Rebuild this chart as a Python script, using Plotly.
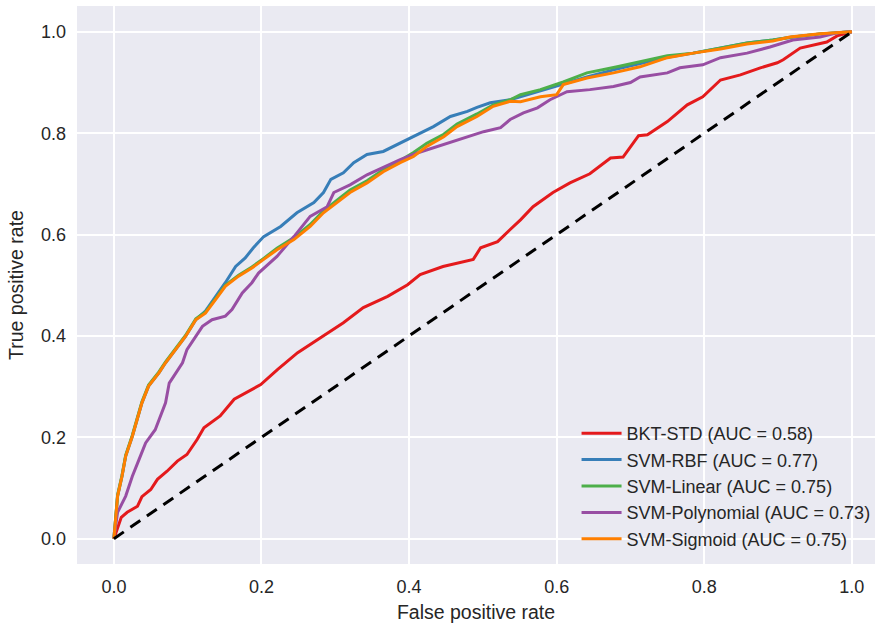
import plotly.graph_objects as go

# ---- data ----
bkt_fpr = [0, 0.010, 0.018, 0.032, 0.038, 0.050, 0.059, 0.072, 0.086, 0.099, 0.113, 0.122, 0.144, 0.163,
           0.199, 0.222, 0.249, 0.280, 0.311, 0.338, 0.371, 0.398, 0.415, 0.446, 0.487, 0.497, 0.520, 0.537,
           0.551, 0.568, 0.595, 0.618, 0.645, 0.673, 0.690, 0.711, 0.723, 0.750, 0.777, 0.798, 0.822, 0.849,
           0.876, 0.899, 0.907, 0.930, 0.947, 0.966, 0.980, 0.997, 1.0]
bkt_tpr = [0, 0.042, 0.052, 0.064, 0.083, 0.097, 0.117, 0.133, 0.153, 0.166, 0.196, 0.219, 0.242, 0.275,
           0.304, 0.334, 0.367, 0.397, 0.426, 0.456, 0.478, 0.501, 0.521, 0.537, 0.551, 0.574, 0.586, 0.610,
           0.629, 0.655, 0.683, 0.702, 0.720, 0.751, 0.753, 0.795, 0.797, 0.823, 0.856, 0.872, 0.905, 0.915,
           0.929, 0.939, 0.945, 0.968, 0.974, 0.980, 0.992, 1.0, 1.0]

rbf_fpr = [0, 0.005, 0.011, 0.016, 0.025, 0.032, 0.038, 0.047, 0.061, 0.070, 0.084, 0.097, 0.111, 0.124,
           0.138, 0.151, 0.165, 0.178, 0.189, 0.203, 0.226, 0.248, 0.271, 0.284, 0.294, 0.311, 0.325, 0.343,
           0.365, 0.384, 0.402, 0.415, 0.433, 0.456, 0.479, 0.492, 0.510, 0.537, 0.560, 0.591, 0.641, 0.677,
           0.713, 0.750, 0.785, 0.822, 0.858, 0.893, 0.920, 0.957, 1.0]
rbf_tpr = [0, 0.084, 0.123, 0.163, 0.202, 0.235, 0.268, 0.301, 0.327, 0.347, 0.373, 0.399, 0.432, 0.449,
           0.478, 0.505, 0.537, 0.554, 0.574, 0.596, 0.616, 0.643, 0.663, 0.683, 0.709, 0.722, 0.742, 0.758,
           0.764, 0.778, 0.791, 0.801, 0.813, 0.833, 0.843, 0.851, 0.860, 0.866, 0.876, 0.890, 0.911, 0.925,
           0.937, 0.950, 0.958, 0.968, 0.978, 0.984, 0.990, 0.996, 1.0]

lin_fpr = [0, 0.005, 0.011, 0.016, 0.025, 0.032, 0.038, 0.047, 0.061, 0.070, 0.084, 0.097, 0.111, 0.124,
           0.138, 0.151, 0.169, 0.187, 0.203, 0.221, 0.244, 0.266, 0.284, 0.302, 0.320, 0.343, 0.365, 0.388,
           0.406, 0.424, 0.447, 0.465, 0.492, 0.514, 0.537, 0.551, 0.578, 0.609, 0.641, 0.682, 0.717, 0.750,
           0.785, 0.822, 0.858, 0.893, 0.920, 0.957, 1.0]
lin_tpr = [0, 0.086, 0.125, 0.165, 0.204, 0.237, 0.270, 0.303, 0.329, 0.349, 0.375, 0.401, 0.434, 0.447,
           0.474, 0.500, 0.520, 0.536, 0.553, 0.573, 0.594, 0.620, 0.647, 0.668, 0.688, 0.706, 0.728, 0.746,
           0.762, 0.780, 0.798, 0.818, 0.838, 0.856, 0.866, 0.876, 0.886, 0.901, 0.919, 0.931, 0.943, 0.953,
           0.958, 0.968, 0.978, 0.984, 0.990, 0.996, 1.0]

poly_fpr = [0, 0.005, 0.016, 0.025, 0.034, 0.043, 0.056, 0.063, 0.070, 0.075, 0.084, 0.093, 0.099, 0.111,
            0.120, 0.133, 0.151, 0.160, 0.174, 0.187, 0.196, 0.221, 0.244, 0.266, 0.289, 0.298, 0.320, 0.343,
            0.365, 0.388, 0.411, 0.433, 0.456, 0.479, 0.501, 0.524, 0.537, 0.555, 0.574, 0.591, 0.614, 0.645,
            0.677, 0.700, 0.713, 0.750, 0.767, 0.798, 0.822, 0.858, 0.889, 0.920, 0.957, 0.980, 1.0]
poly_tpr = [0, 0.052, 0.084, 0.123, 0.156, 0.189, 0.215, 0.241, 0.268, 0.307, 0.327, 0.347, 0.373, 0.399,
            0.419, 0.432, 0.439, 0.452, 0.485, 0.505, 0.524, 0.557, 0.596, 0.636, 0.655, 0.683, 0.698, 0.718,
            0.732, 0.748, 0.761, 0.771, 0.781, 0.793, 0.803, 0.811, 0.827, 0.840, 0.850, 0.866, 0.882, 0.886,
            0.892, 0.900, 0.911, 0.919, 0.929, 0.935, 0.949, 0.958, 0.970, 0.984, 0.990, 0.998, 1.0]

sig_fpr = [0, 0.005, 0.011, 0.016, 0.025, 0.032, 0.038, 0.047, 0.061, 0.070, 0.084, 0.097, 0.111, 0.124,
           0.138, 0.151, 0.169, 0.187, 0.203, 0.221, 0.244, 0.266, 0.284, 0.302, 0.320, 0.343, 0.365, 0.388,
           0.406, 0.424, 0.447, 0.465, 0.492, 0.514, 0.537, 0.551, 0.578, 0.600, 0.609, 0.641, 0.677, 0.713,
           0.750, 0.785, 0.822, 0.858, 0.893, 0.916, 0.957, 1.0]
sig_tpr = [0, 0.084, 0.123, 0.163, 0.202, 0.235, 0.268, 0.301, 0.327, 0.347, 0.373, 0.399, 0.432, 0.445,
           0.472, 0.498, 0.518, 0.534, 0.551, 0.570, 0.590, 0.616, 0.643, 0.663, 0.683, 0.702, 0.724, 0.742,
           0.754, 0.774, 0.793, 0.813, 0.833, 0.853, 0.863, 0.862, 0.872, 0.876, 0.896, 0.909, 0.919, 0.931,
           0.949, 0.958, 0.966, 0.976, 0.982, 0.990, 0.996, 1.0]

chance_x = [0, 1]
chance_y = [0, 1]

series = [
    ("BKT-STD (AUC = 0.58)", bkt_fpr, bkt_tpr, "#e41a1c"),
    ("SVM-RBF (AUC = 0.77)", rbf_fpr, rbf_tpr, "#377eb8"),
    ("SVM-Linear (AUC = 0.75)", lin_fpr, lin_tpr, "#4daf4a"),
    ("SVM-Polynomial (AUC = 0.73)", poly_fpr, poly_tpr, "#984ea3"),
    ("SVM-Sigmoid (AUC = 0.75)", sig_fpr, sig_tpr, "#ff7f00"),
]
tick_vals = [0.0, 0.2, 0.4, 0.6, 0.8, 1.0]
tick_text = ["0.0", "0.2", "0.4", "0.6", "0.8", "1.0"]

fig = go.Figure()
for name, xs, ys, col in series:
    fig.add_trace(go.Scatter(x=xs, y=ys, mode="lines", name=name,
                             line=dict(color=col, width=3)))
fig.add_trace(go.Scatter(x=chance_x, y=chance_y, mode="lines", showlegend=False,
                         line=dict(color="black", width=3, dash="12px,8px")))

FONT = "Liberation Sans, Arial, sans-serif"
fig.update_layout(
    width=875, height=623,
    margin=dict(l=77, r=0, t=6, b=59, autoexpand=False),
    paper_bgcolor="white", plot_bgcolor="#EAEAF2",
    font=dict(family=FONT, size=18, color="#262626"),
    legend=dict(x=0.626, y=0.267, xanchor="left", yanchor="top",
                bgcolor="rgba(0,0,0,0)", font=dict(size=18, color="#262626"),
                itemwidth=40, tracegroupgap=0),
    showlegend=True,
)
fig.update_xaxes(range=[-0.05, 1.0314], tickvals=tick_vals, ticktext=tick_text,
                 showgrid=True, gridcolor="white", gridwidth=1.6, zeroline=False,
                 showline=False, ticks="", ticklabelstandoff=10, automargin=False,
                 tickfont=dict(size=18),
                 title=dict(text="False positive rate", font=dict(size=19.5), standoff=10))
fig.update_yaxes(range=[-0.05, 1.051], tickvals=tick_vals, ticktext=tick_text,
                 showgrid=True, gridcolor="white", gridwidth=1.6, zeroline=False,
                 showline=False, ticks="", ticklabelstandoff=10, automargin=False,
                 tickfont=dict(size=18),
                 title=dict(text="True positive rate", font=dict(size=19.5), standoff=12))

fig.write_html("out.html", config={"displayModeBar": False},
               post_script="document.body.style.margin='0';document.body.style.overflow='hidden';")
